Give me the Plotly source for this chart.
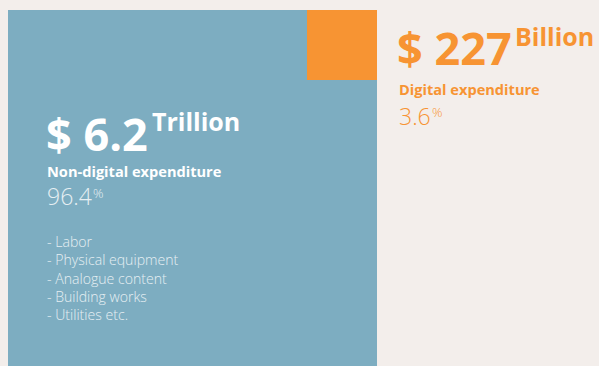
import math
import plotly.graph_objects as go

# Global expenditure split
categories = ["Non-digital expenditure", "Digital expenditure"]
amounts = [6.2, 227]
units = ["Trillion", "Billion"]
shares = [96.4, 3.6]
components = ["Labor", "Physical equipment", "Analogue content", "Building works", "Utilities etc."]

BLUE = "#7dadc1"
ORANGE = "#f79433"
BG = "#f3eeeb"
FONT = "Open Sans"

W, H = 599, 366


def px(x):
    return x / W


def py(y):
    return 1 - y / H


# Square sides scale with the square root of each share; the large square is the whole.
total = sum(shares)
side_all = math.sqrt(total / total)
side_dig = math.sqrt(shares[1] / total)

fig = go.Figure()
fig.add_trace(go.Scatter(
    x=[0, side_all, side_all, 0, 0], y=[0, 0, side_all, side_all, 0],
    fill="toself", fillcolor=BLUE, line=dict(width=0), mode="lines",
    hoverinfo="skip", name=categories[0]))
fig.add_trace(go.Scatter(
    x=[side_all - side_dig, side_all, side_all, side_all - side_dig, side_all - side_dig],
    y=[side_all - side_dig, side_all - side_dig, side_all, side_all, side_all - side_dig],
    fill="toself", fillcolor=ORANGE, line=dict(width=0), mode="lines",
    hoverinfo="skip", name=categories[1]))

scale = 369.0  # pixels per unit of side
fig.update_xaxes(range=[-8 / scale, (W - 8) / scale], visible=False, fixedrange=True)
fig.update_yaxes(range=[(379 - H) / scale, 379 / scale], visible=False, fixedrange=True)


def label(text, x, y, size, color, weight="normal", xanchor="left", yanchor="middle"):
    fig.add_annotation(text=text, x=px(x), y=py(y), xref="paper", yref="paper",
                       xanchor=xanchor, yanchor=yanchor, showarrow=False, borderpad=0,
                       align="left",
                       font=dict(family=FONT, size=size, color=color, weight=weight))


LIGHT = "#e6eff3"
# Non-digital block
label(f"$ {amounts[0]}", 45, 133, 45, "white", "bold")
label(units[0], 151, 121, 25, "white", "bold")
label(categories[0], 46, 171, 14.6, "white", "bold")
label(f"{shares[0]}", 46, 196, 23, LIGHT, 300)
label("%", 92, 193, 13, LIGHT, 300)
label("<br>".join(f"- {c}" for c in components), 46, 278, 14.1, LIGHT, 300)

# Digital block
label(f"$ {amounts[1]}", 396, 47, 45, ORANGE, "bold")
label(units[1], 514, 36, 25, ORANGE, "bold")
label(categories[1], 398, 89, 14.6, ORANGE, "bold")
label(f"{shares[1]}", 398, 116, 23, ORANGE, 300)
label("%", 431, 112, 13, ORANGE, 300)

fig.update_layout(width=W, height=H, margin=dict(l=0, r=0, t=0, b=0),
                  paper_bgcolor=BG, plot_bgcolor=BG, showlegend=False)
fig.write_html("out.html")
